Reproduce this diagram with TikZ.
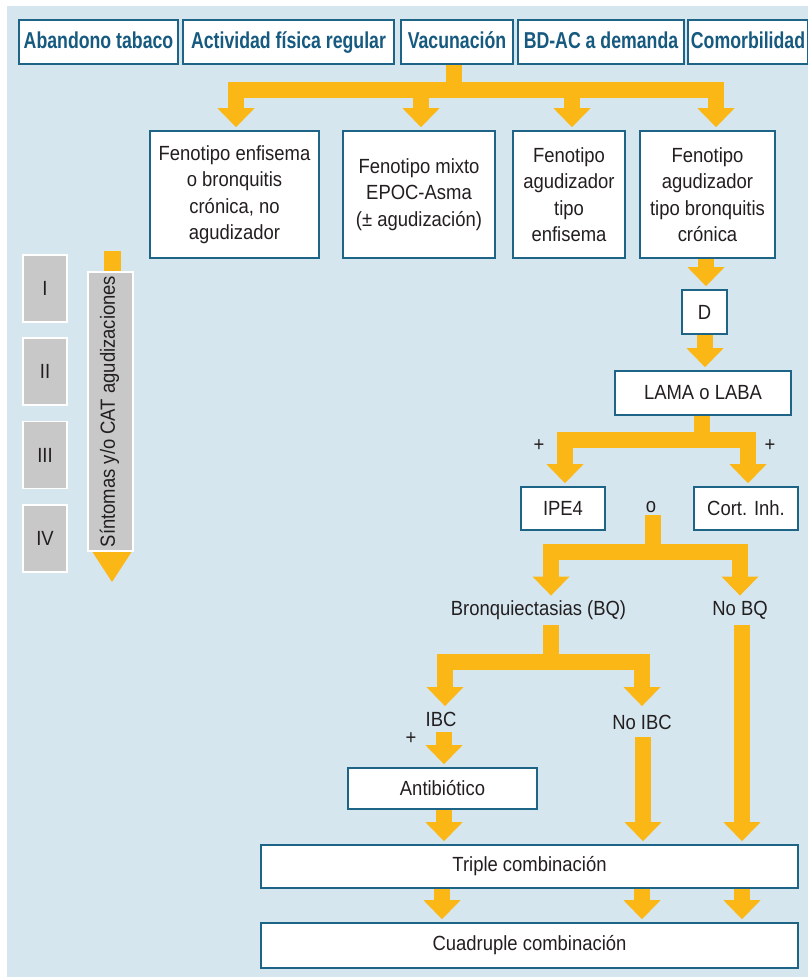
\documentclass[tikz,border=0pt]{standalone}
\usepackage{fontspec}
\setmainfont[FakeStretch=0.9]{Liberation Sans}
\newfontfamily\hdrfont[FakeStretch=0.77]{Liberation Sans}
\usetikzlibrary{arrows.meta}
\definecolor{bgblue}{RGB}{214,230,239}
\definecolor{boxline}{RGB}{30,100,135}
\definecolor{hdrtext}{RGB}{22,90,128}
\definecolor{arrowc}{RGB}{251,183,21}
\definecolor{txt}{RGB}{35,31,32}
\definecolor{grayfill}{RGB}{200,200,200}
\tikzset{
  fattip/.tip={Triangle[width=37pt,length=19pt,line width=0pt]},
  bigtip/.tip={Triangle[width=39pt,length=30pt,line width=0pt]},
  bodyfont/.style={font=\fontsize{20.5}{26.5}\selectfont},
  hbox/.style={draw=boxline, line width=1.6pt, fill=white, inner sep=0pt,
    font=\hdrfont\bfseries\fontsize{23}{27}\selectfont, text=hdrtext,
    text height=16.5pt, text depth=4.5pt, minimum height=44pt},
  wbox/.style={draw=boxline, line width=1.6pt, fill=white, inner sep=0pt,
    bodyfont, text=txt, align=center},
  gbox/.style={draw=white, line width=1.5pt, fill=grayfill, inner sep=0pt,
    bodyfont, text=txt},
  lbl/.style={inner sep=0pt, text height=14.5pt, text depth=0pt, bodyfont, text=txt},
  fat/.style={draw=arrowc, line width=16pt},
  fa/.style={fat, -fattip, shorten >=3pt},
  fab/.style={fat, fattip-fattip, shorten <=3pt, shorten >=3pt},
}
\begin{document}
\begin{tikzpicture}[x=1pt,y=-1pt]
\useasboundingbox (0,0) rectangle (807,977);
\fill[bgblue] (7,6) rectangle (812,982);

% header boxes
\node[hbox, minimum width=159pt] (aba) at (98.5,42) {Abandono tabaco};
\node[hbox, minimum width=211pt] (act) at (288.5,42) {Actividad física regular};
\node[hbox, minimum width=112pt] (vac) at (457,42) {Vacunación};
\node[hbox, minimum width=166pt] (bdac) at (601,42) {BD-AC a demanda};
\node[hbox, minimum width=120pt] (com) at (748,42) {Comorbilidad};

% phenotype boxes
\node[wbox, minimum width=169pt, minimum height=127pt] (f1) at (234.5,194.5)
  {Fenotipo enfisema\\o bronquitis\\crónica, no\\agudizador};
\node[wbox, minimum width=152pt, minimum height=127pt] (f2) at (419,194.5)
  {Fenotipo mixto\\EPOC-Asma\\(± agudización)};
\node[wbox, minimum width=112pt, minimum height=127pt] (f3) at (569,194.5)
  {Fenotipo\\agudizador\\tipo\\enfisema};
\node[wbox, minimum width=135pt, minimum height=127pt] (f4) at (707.5,194.5)
  {Fenotipo\\agudizador\\tipo bronquitis\\crónica};

% top arrows
\coordinate (topbar) at (454,90);
\coordinate (b2) at (421,90);
\coordinate (b3) at (572,90);
\draw[fat] (454,0 |- vac.south) -- (topbar);
\draw[fab] (236,0 |- f1.north) |- (topbar) -| (716,0 |- f4.north);
\draw[fa] (b2) -- (421,0 |- f2.north);
\draw[fa] (b3) -- (572,0 |- f3.north);

% left scale
\node[gbox, minimum width=44pt, minimum height=67pt] (s1) at (45,288.5) {I};
\node[gbox, minimum width=44pt, minimum height=67pt] (s2) at (45,371.5) {II};
\node[gbox, minimum width=44pt, minimum height=67pt] (s3) at (45,455) {III};
\node[gbox, minimum width=44pt, minimum height=67pt] (s4) at (45,538.5) {IV};
\coordinate (symtop) at (112,251);
\coordinate (symbot) at (112,582);
\draw[draw=arrowc, line width=17pt, -bigtip] (symtop) -- (symbot);
\node[draw=white, line width=1.5pt, fill=grayfill, minimum width=45pt, minimum height=279pt] (sbar) at (110.5,411.5) {};
\node[lbl, rotate=90] (stxt) at (107.5,411.5) {Síntomas y/o CAT agudizaciones};

% D and LAMA
\node[wbox, minimum width=45pt, minimum height=44pt] (D) at (704.5,312) {D};
\node[wbox, minimum width=176pt, minimum height=44pt] (lama) at (703,393) {LAMA o LABA};
\draw[fa] (706,0 |- f4.south) -- (706,0 |- D.north);
\draw[fa] (705,0 |- D.south) -- (705,0 |- lama.north);

% IPE4 / Cort
\node[wbox, minimum width=84pt, minimum height=43pt] (ipe) at (563,508.5) {IPE4};
\node[wbox, minimum width=104pt, minimum height=43pt] (cort) at (746,508.5) {Cort. Inh.};
\coordinate (lbar) at (701.5,440);
\draw[fat] (701.5,0 |- lama.south) -- (lbar);
\draw[fab] (565,0 |- ipe.north) |- (lbar) -| (748,0 |- cort.north);
\node[lbl] (plus1) at (539,444.5) {+};
\node[lbl] (plus2) at (770,444.5) {+};
\node[lbl] (o) at (651,504.8) {o};

% BQ split
\node[lbl] (bq) at (538.5,608) {Bronquiectasias (BQ)};
\node[lbl] (nobq) at (740,608) {No BQ};
\coordinate (ostart) at (653,515);
\coordinate (obar) at (653,552);
\draw[fat] (ostart) -- (obar);
\draw[fab, shorten <=5pt, shorten >=5pt] (551,0 |- bq.north) |- (obar) -| (740,0 |- nobq.north);

% IBC split
\node[lbl] (ibc) at (441,719.5) {IBC};
\node[lbl] (noibc) at (642,722.5) {No IBC};
\node[lbl] (plus3) at (411,737.5) {+};
\coordinate (bqstart) at (551,625);
\coordinate (bqbar) at (551,662);
\draw[fat] (bqstart) -- (bqbar);
\draw[fab, shorten <=6pt, shorten >=9pt] (445,0 |- ibc.north) |- (bqbar) -| (642,0 |- noibc.north);

% Antibiotico, triple, cuadruple
\node[wbox, minimum width=189pt, minimum height=41pt] (anti) at (442.5,788.5) {Antibiótico};
\node[wbox, minimum width=537pt, minimum height=43pt] (triple) at (529.5,866.5) {Triple combinación};
\node[wbox, minimum width=537pt, minimum height=45pt] (cuad) at (529.5,945.5) {Cuadruple combinación};
\coordinate (ibcstart) at (444,732);
\coordinate (noibcstart) at (643,737);
\coordinate (nobqstart) at (742,625);
\draw[fa] (ibcstart) -- (444,0 |- anti.north);
\draw[fa] (444,0 |- anti.south) -- (444,0 |- triple.north);
\draw[fa] (noibcstart) -- (643,0 |- triple.north);
\draw[fa] (nobqstart) -- (742,0 |- triple.north);
\draw[fa] (442,0 |- triple.south) -- (442,0 |- cuad.north);
\draw[fa] (642,0 |- triple.south) -- (642,0 |- cuad.north);
\draw[fa] (742,0 |- triple.south) -- (742,0 |- cuad.north);
\end{tikzpicture}
\end{document}
